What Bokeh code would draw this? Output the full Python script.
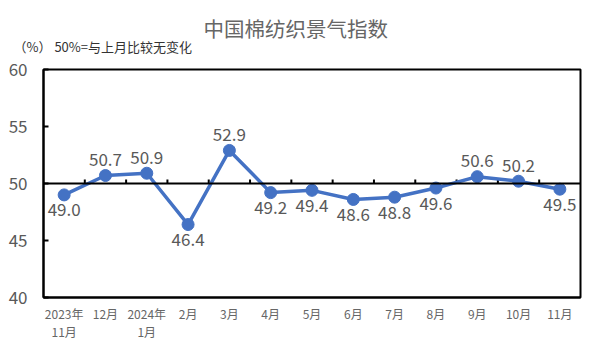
from bokeh.plotting import figure
from bokeh.models import Range1d, FixedTicker, Span, ColumnDataSource, Title
from bokeh.embed import file_html
from bokeh.resources import INLINE

# ---- data ----
months = ["2023年\n11月", "12月", "2024年\n1月", "2月", "3月", "4月", "5月",
          "6月", "7月", "8月", "9月", "10月", "11月"]
values = [49.0, 50.7, 50.9, 46.4, 52.9, 49.2, 49.4, 48.6, 48.8, 49.6, 50.6, 50.2, 49.5]
label_side = ["below", "above", "above", "below", "above", "below", "below",
              "below", "below", "below", "above", "above", "below"]
y_ticks = [40, 45, 50, 55, 60]
baseline = 50
title_text = "中国棉纺织景气指数"
subtitle_text = "（%） 50%=与上月比较无变化"

FONT = "Noto Sans CJK SC"
GRAY = "#595959"
BLUE = "#4472C4"

W, H = 591, 354
FRAME_LEFT, FRAME_RIGHT, FRAME_TOP, FRAME_BOTTOM = 43, 580, 69, 297

xs = list(range(len(months)))
x0, x1 = -0.5, len(months) - 0.5
p = figure(width=W, height=H, output_backend="svg", toolbar_location=None,
           x_range=Range1d(x0, x1),
           y_range=Range1d(y_ticks[0], y_ticks[-1]),
           min_border_left=FRAME_LEFT, min_border_right=W - FRAME_RIGHT,
           min_border_top=FRAME_TOP, min_border_bottom=H - FRAME_BOTTOM)

p.grid.visible = False
p.outline_line_color = "black"
p.outline_line_width = 2
p.background_fill_color = "white"
p.border_fill_color = "white"

# titles: first added sits next to the frame, the next one above it
sub = Title(text=subtitle_text, align="left", offset=-30, standoff=28,
            text_font=FONT, text_font_size="13px", text_font_style="normal",
            text_color="#333333")
p.add_layout(sub, "above")
main = Title(text=title_text, align="left", offset=160, standoff=-44,
             text_font=FONT, text_font_size="20.5px", text_font_style="normal",
             text_color="#666666")
p.add_layout(main, "above")

# y axis
ya = p.yaxis[0]
ya.ticker = FixedTicker(ticks=y_ticks)
ya.axis_line_color = "black"
ya.axis_line_width = 2
ya.major_tick_in = 5
ya.major_tick_out = 0
ya.major_tick_line_color = "black"
ya.major_tick_line_width = 2
ya.minor_tick_line_color = None
ya.major_label_standoff = 16
ya.major_label_text_font = FONT
ya.major_label_text_font_size = "17px"
ya.major_label_text_color = GRAY

# x axis
xa = p.xaxis[0]
xa.ticker = FixedTicker(ticks=xs)
xa.major_label_overrides = {i: m for i, m in enumerate(months)}
xa.axis_line_color = "black"
xa.axis_line_width = 2
xa.major_tick_line_color = None
xa.minor_tick_line_color = None
xa.major_tick_in = 0
xa.major_tick_out = 0
xa.major_label_standoff = 7
xa.major_label_text_font = FONT
xa.major_label_text_font_size = "12px"
xa.major_label_text_color = "#666666"
xa.major_label_text_line_height = 1.1

# baseline at 50 with small upward ticks at category boundaries
p.add_layout(Span(location=baseline, dimension="width", line_color="black", line_width=2))
ppy = (FRAME_BOTTOM - FRAME_TOP) / (y_ticks[-1] - y_ticks[0])
tick_len = 4 / ppy
bx = [i + 0.5 for i in xs[:-1]]
p.segment(x0=bx, y0=[baseline] * len(bx), x1=bx, y1=[baseline + tick_len] * len(bx),
          line_color="black", line_width=2)

# series
p.line(xs, values, line_color=BLUE, line_width=3.5)
p.scatter(xs, values, size=12, fill_color=BLUE, line_color=BLUE)

# data labels
lab = [f"{v:.1f}" for v in values]
up = ColumnDataSource(dict(x=[x for x, s in zip(xs, label_side) if s == "above"],
                           y=[v for v, s in zip(values, label_side) if s == "above"],
                           t=[l for l, s in zip(lab, label_side) if s == "above"]))
dn = ColumnDataSource(dict(x=[x for x, s in zip(xs, label_side) if s == "below"],
                           y=[v for v, s in zip(values, label_side) if s == "below"],
                           t=[l for l, s in zip(lab, label_side) if s == "below"]))
for src, off in ((up, -16), (dn, 15)):
    p.text(x="x", y="y", text="t", source=src, y_offset=off,
           text_align="center", text_baseline="middle",
           text_font_size="17px", text_color=GRAY,
           text_font={"value": FONT})

open("out.html", "w").write(file_html(p, INLINE))
